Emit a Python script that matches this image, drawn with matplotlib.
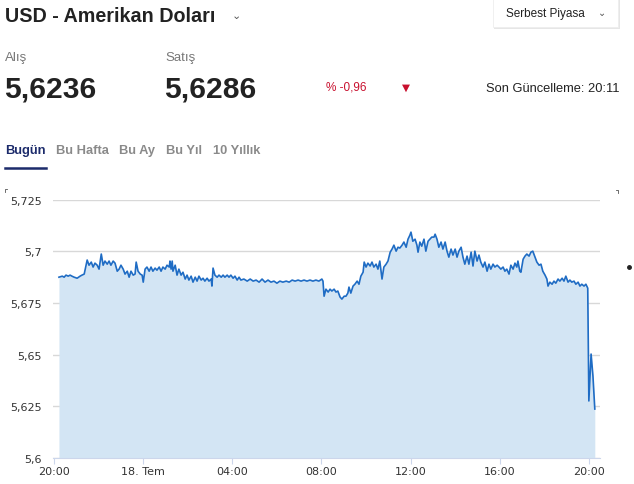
import matplotlib
matplotlib.use("Agg")
import matplotlib.pyplot as plt
from matplotlib.patches import Rectangle
from matplotlib.lines import Line2D

# minutes since 17 Jul 20:00, and the price
minutes = [13, 22, 27, 32, 38, 43, 48, 54, 62, 70, 75, 81, 89, 94, 100, 105, 110, 116, 121, 127,
           132, 137, 143, 148, 153, 159, 164, 170, 175, 180, 186, 191, 197, 202, 207, 213, 218, 221,
           226, 232, 237, 240, 245, 250,
           256, 261, 266, 272, 277, 283, 288, 293, 299, 304, 310, 312, 315, 318, 320, 326, 331, 336,
           342, 347, 353, 358, 363, 369, 374, 380, 385, 390, 396, 401, 406, 412, 417, 423, 425, 428,
           433, 439, 444, 450, 455, 460, 466, 471, 476, 482, 487, 493, 498,
           503, 511, 520, 528, 536, 544, 552, 560, 568, 576, 584, 592, 600, 608, 616, 625, 633, 641,
           649, 657, 665, 673, 681, 689, 697, 705, 713, 721, 724, 727,
           732, 738, 743, 748, 754, 759, 764, 770, 775, 781, 786, 791, 794, 799, 805, 810, 816, 821,
           826, 832, 835, 840, 845, 851, 856, 861, 867, 872, 877, 883, 888, 894, 899, 905, 910, 915,
           921, 926, 931, 937, 942, 948, 953, 958, 961, 966, 972, 977, 980,
           985, 990, 996, 1001, 1007, 1012, 1017, 1023, 1026, 1031, 1036, 1042, 1047, 1053, 1058,
           1063, 1069, 1074, 1080, 1085, 1090, 1096, 1101, 1106, 1112, 1117, 1123, 1128, 1133, 1139,
           1144, 1149, 1155, 1160, 1166, 1171, 1176, 1182, 1187, 1193, 1198, 1203, 1209, 1214, 1219,
           1225,
           1230, 1236, 1241, 1246, 1249, 1254, 1257, 1263, 1268, 1273, 1279, 1284, 1289, 1295, 1300,
           1306, 1311, 1316, 1322, 1327, 1330, 1335, 1341, 1346, 1351, 1357, 1362, 1368, 1373, 1378,
           1384, 1389, 1394, 1400, 1405, 1411, 1416, 1421, 1427, 1432, 1437, 1440, 1446, 1451, 1456]
prices = [5.6875, 5.6880, 5.6875, 5.6885, 5.6880, 5.6885, 5.6880, 5.6875, 5.6870, 5.6880, 5.6885,
          5.6890, 5.6958, 5.6933, 5.6948, 5.6924, 5.6943, 5.6933, 5.6914, 5.6987, 5.6933, 5.6953,
          5.6938, 5.6953, 5.6933, 5.6953, 5.6943, 5.6904, 5.6914, 5.6933, 5.6914, 5.6890, 5.6904,
          5.6875, 5.6904, 5.6885, 5.6890, 5.6948, 5.6904, 5.6890, 5.6885, 5.6851, 5.6914, 5.6924,
          5.6904, 5.6924, 5.6904, 5.6919, 5.6909, 5.6924, 5.6904, 5.6924, 5.6914, 5.6933, 5.6924,
          5.6953, 5.6914, 5.6953, 5.6904, 5.6933, 5.6885, 5.6914, 5.6885, 5.6899, 5.6866, 5.6885,
          5.6861, 5.6880, 5.6851, 5.6875, 5.6856, 5.6880, 5.6861, 5.6870, 5.6856, 5.6870, 5.6856,
          5.6866, 5.6832, 5.6919, 5.6885, 5.6875, 5.6885, 5.6875, 5.6885, 5.6875, 5.6885, 5.6875,
          5.6885, 5.6870, 5.6880, 5.6861, 5.6875,
          5.6861, 5.6866, 5.6856, 5.6866, 5.6856, 5.6861, 5.6851, 5.6866, 5.6851, 5.6861, 5.6851,
          5.6856, 5.6846, 5.6856, 5.6851, 5.6856, 5.6851, 5.6861, 5.6856, 5.6861, 5.6856, 5.6861,
          5.6856, 5.6861, 5.6856, 5.6861, 5.6856, 5.6866, 5.6856, 5.6783,
          5.6817, 5.6803, 5.6817, 5.6808, 5.6817, 5.6803, 5.6808, 5.6779, 5.6769, 5.6783, 5.6783,
          5.6798, 5.6827, 5.6798, 5.6832, 5.6841, 5.6856, 5.6841, 5.6880, 5.6899, 5.6948, 5.6924,
          5.6943, 5.6929, 5.6948, 5.6924, 5.6938, 5.6914, 5.6953, 5.6866, 5.6924, 5.6938, 5.6953,
          5.6996, 5.7011, 5.7030, 5.7001, 5.7020, 5.7016, 5.7030, 5.7045, 5.7020, 5.7059, 5.7078,
          5.7093, 5.7049, 5.7059, 5.7030, 5.6996,
          5.7045, 5.7025, 5.7059, 5.7001, 5.7049, 5.7059, 5.7069, 5.7069, 5.7083, 5.7059, 5.7020,
          5.7045, 5.7011, 5.7045, 5.7001, 5.6972, 5.7011, 5.6982, 5.7011, 5.6972, 5.7001, 5.7020,
          5.6972, 5.6938, 5.6977, 5.6938, 5.6996, 5.6929, 5.7001, 5.6953, 5.6982, 5.6948, 5.6924,
          5.6948, 5.6904, 5.6938, 5.6914, 5.6938, 5.6924, 5.6933, 5.6924, 5.6914, 5.6924, 5.6904,
          5.6914, 5.6890,
          5.6933, 5.6914, 5.6943, 5.6924, 5.6953, 5.6904, 5.6899, 5.6962, 5.6977, 5.6987, 5.6977,
          5.6996, 5.7001, 5.6972, 5.6948, 5.6933, 5.6938, 5.6904, 5.6885, 5.6866, 5.6832, 5.6851,
          5.6841, 5.6856, 5.6846, 5.6866, 5.6856, 5.6870, 5.6856, 5.6880, 5.6851, 5.6861, 5.6851,
          5.6856, 5.6841, 5.6851, 5.6832, 5.6841, 5.6832, 5.6841, 5.6822, 5.6276, 5.6503, 5.6397,
          5.6237]

y_ticks = [5.6, 5.625, 5.65, 5.675, 5.7, 5.725]
y_labels = ["5,6", "5,625", "5,65", "5,675", "5,7", "5,725"]
x_ticks = [0, 240, 480, 720, 960, 1200, 1440]
x_labels = ["20:00", "18. Tem", "04:00", "08:00", "12:00", "16:00", "20:00"]

W, H = 634, 485


def fx(x):
    return x / W


def fy(y):
    return 1 - y / H


fig = plt.figure(figsize=(W / 100, H / 100), dpi=100)

ax = fig.add_axes([fx(53), fy(459), fx(600) - fx(53), fy(200.7) - fy(459)])
ax.fill_between(minutes, prices, 5.6, color="#d3e5f4", lw=0)
ax.plot(minutes, prices, color="#1f6cc4", lw=1.2)
ax.set_xlim(-3, 1470)
ax.set_ylim(5.6, 5.725)
ax.set_yticks(y_ticks)
ax.set_yticklabels(y_labels)
ax.set_xticks(x_ticks)
ax.set_xticklabels(x_labels)
ax.grid(axis="y", color="#d8d8d8", lw=1)
ax.set_axisbelow(True)
for s in ["top", "right", "left"]:
    ax.spines[s].set_visible(False)
ax.spines["bottom"].set_color("#ccd6eb")
ax.tick_params(axis="y", length=0, pad=8, labelsize=8, labelcolor="#333333")
ax.tick_params(axis="x", length=4, color="#ccd6eb", pad=1.5, labelsize=8, labelcolor="#333333")
for t in ax.get_yticklabels() + ax.get_xticklabels():
    t.set_family("DejaVu Sans")

# header
hf = "Liberation Sans"
fig.text(fx(5), fy(16), "USD - Amerikan Doları", family=hf, weight="bold", fontsize=14.2,
         color="#222222", va="center")
fig.text(fx(236), fy(16), "⌄", family="DejaVu Sans", fontsize=8, color="#555555", va="center", ha="center")

fig.text(fx(5), fy(58), "Alış", family=hf, fontsize=9.5, color="#777777", va="center")
fig.text(fx(165), fy(58), "Satış", family=hf, fontsize=9.5, color="#777777", va="center")
fig.text(fx(4), fy(90), "5,6236", family=hf, weight="bold", fontsize=21.6, color="#222222", va="center")
fig.text(fx(164), fy(90), "5,6286", family=hf, weight="bold", fontsize=21.6, color="#222222", va="center")

fig.text(fx(326), fy(88), "% -0,96", family=hf, fontsize=8.5, color="#c8102e", va="center")
fig.text(fx(406), fy(88), "▼", family="DejaVu Sans", fontsize=7.5, color="#c8102e", va="center", ha="center")
fig.text(fx(619), fy(89), "Son Güncelleme: 20:11", family=hf, fontsize=9.3, color="#222222",
         va="center", ha="right")

# market selector box
fig.patches.append(Rectangle((fx(494), fy(30)), fx(126), fy(0) - fy(30) + 0.002,
                             transform=fig.transFigure, facecolor="#e6e6e6", edgecolor="none"))
fig.patches.append(Rectangle((fx(493), fy(28)), fx(125), fy(0) - fy(28) + 0.002,
                             transform=fig.transFigure, facecolor="white", edgecolor="#eeeeee", lw=0.6))
fig.text(fx(506), fy(14), "Serbest Piyasa", family=hf, fontsize=8.5, color="#222222", va="center")
fig.text(fx(602), fy(13), "⌄", family="DejaVu Sans", fontsize=7, color="#555555", va="center", ha="center")

# tabs
tabs = ["Bugün", "Bu Hafta", "Bu Ay", "Bu Yıl", "10 Yıllık"]
tab_x = [5, 56, 119, 166, 213]
for name, x in zip(tabs, tab_x):
    fig.text(fx(x), fy(151), name, family=hf, weight="bold", fontsize=9.3,
             color="#1c2b6b" if name == "Bugün" else "#8a8a8a", va="center")
fig.add_artist(Line2D([fx(5), fx(46)], [fy(168.5), fy(168.5)], color="#1c2b6b", lw=1.8))

# small corner marks and dot beside the chart
fig.add_artist(Line2D([fx(5), fx(5), fx(7)], [fy(193), fy(190), fy(190)], color="#555555", lw=0.6))
fig.add_artist(Line2D([fx(616), fx(618), fx(618)], [fy(191), fy(191), fy(194)], color="#555555", lw=0.6))
fig.add_artist(Line2D([fx(629)], [fy(268)], marker="o", ms=2.5, color="#222222", lw=0))

fig.savefig("out.png", dpi=100)
